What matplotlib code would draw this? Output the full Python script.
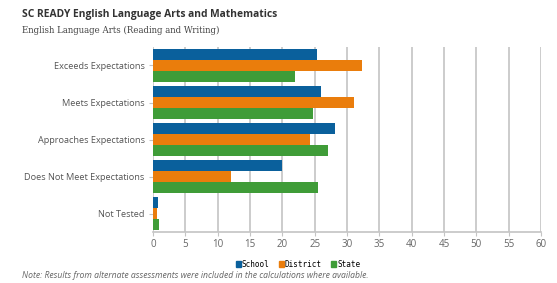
import numpy as np
import matplotlib.pyplot as plt
from matplotlib.patches import Patch

categories = ['Exceeds Expectations', 'Meets Expectations', 'Approaches Expectations',
              'Does Not Meet Expectations', 'Not Tested']
school = [25.3, 26.0, 28.1, 20.0, 0.7]
district = [32.3, 31.1, 24.2, 12.1, 0.6]
state = [21.9, 24.7, 27.1, 25.5, 1.0]
xticks = list(range(0, 65, 5))

colors = {'School': '#0a609c', 'District': '#ea7d0c', 'State': '#3f9c38'}

fig = plt.figure(figsize=(5.57, 2.83), dpi=100)
ax = fig.add_axes([0.2747, 0.180, 0.6966, 0.654])

y = np.arange(len(categories))
h = 0.297
ax.barh(y - h, school, height=h, color=colors['School'], zorder=3)
ax.barh(y, district, height=h, color=colors['District'], zorder=3)
ax.barh(y + h, state, height=h, color=colors['State'], zorder=3)

ax.set_ylim(len(categories) - 0.5, -0.5)
ax.set_xlim(0, 60)
ax.set_xticks(xticks)
ax.set_yticks(y)
ax.set_yticklabels(categories, fontsize=6.6, color='#555555', family='Open Sans')
for lbl in ax.get_xticklabels():
    lbl.set_fontsize(7)
    lbl.set_color('#666666')
    lbl.set_family('Open Sans')
ax.grid(axis='x', color='#c4c4c4', linewidth=1.2, zorder=0)
for s in ['top', 'right', 'left']:
    ax.spines[s].set_visible(False)
ax.spines['bottom'].set_color('#c4c4c4')
ax.spines['bottom'].set_linewidth(1.2)
ax.tick_params(axis='x', length=3, color='#c4c4c4', pad=2)
ax.tick_params(axis='y', length=3, color='#c4c4c4', pad=3)

fig.text(0.039, 0.95, 'SC READY English Language Arts and Mathematics', fontsize=7.4,
         fontweight='bold', color='#333333', family='Open Sans', va='center')
fig.text(0.039, 0.893, 'English Language Arts (Reading and Writing)', fontsize=6.2,
         color='#444444', family='DejaVu Serif', va='center')

handles = [Patch(color=c, label=k) for k, c in colors.items()]
fig.legend(handles=handles, loc='center', bbox_to_anchor=(0.535, 0.067), ncol=3,
           frameon=False, prop={'family': 'DejaVu Sans Mono', 'size': 5.5},
           handlelength=0.7, handleheight=0.7, handletextpad=0.1, columnspacing=1.2)

fig.text(0.039, 0.025, 'Note: Results from alternate assessments were included in the calculations where available.',
         fontsize=6.25, style='italic', color='#666666', family='Open Sans', va='center')

fig.savefig('out.png', dpi=100)
